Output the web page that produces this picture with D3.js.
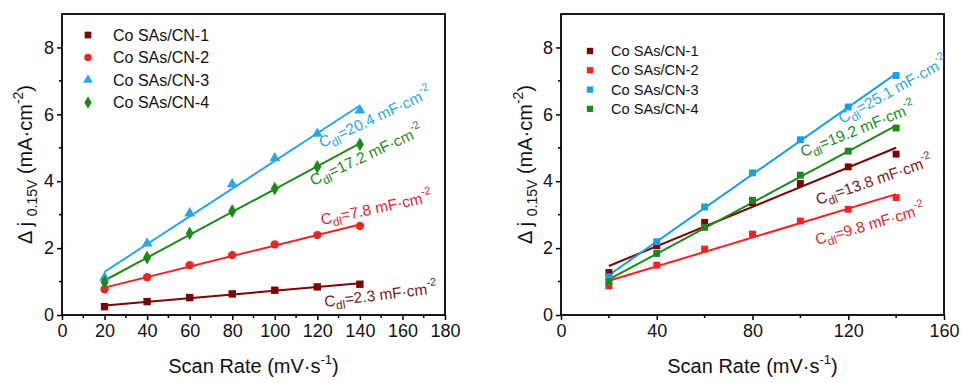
<!DOCTYPE html>
<html><head><meta charset="utf-8">
<script src="https://cdn.jsdelivr.net/npm/d3@7"></script>
<style>
html,body{margin:0;padding:0;background:#fff;}
svg{display:block;font-family:"Liberation Sans",Arial,sans-serif;}
</style></head>
<body>
<svg id="chart" width="963" height="383"></svg>
<script>
// ---------- DATA ----------
const scanRates = [20, 40, 60, 80, 100, 120, 140];
const seriesNames = ["Co SAs/CN-1", "Co SAs/CN-2", "Co SAs/CN-3", "Co SAs/CN-4"];

// Left panel
const leftCN1 = [0.25, 0.40, 0.52, 0.63, 0.74, 0.84, 0.92];
const leftCN2 = [0.77, 1.13, 1.49, 1.79, 2.11, 2.39, 2.66];
const leftCN3 = [1.12, 2.14, 3.04, 3.91, 4.69, 5.42, 6.12];
const leftCN4 = [0.98, 1.72, 2.44, 3.11, 3.78, 4.43, 5.10];
const leftCdl = ["2.3", "7.8", "20.4", "17.2"];

// Right panel
const rightCN1 = [1.27, 2.07, 2.77, 3.36, 3.93, 4.43, 4.81];
const rightCN2 = [0.87, 1.49, 1.97, 2.42, 2.81, 3.16, 3.51];
const rightCN3 = [1.14, 2.19, 3.23, 4.25, 5.24, 6.22, 7.16];
const rightCN4 = [0.99, 1.84, 2.62, 3.43, 4.18, 4.90, 5.59];
const rightCdl = ["13.8", "9.8", "25.1", "19.2"];

// Ticks
const leftXTicks = [0, 20, 40, 60, 80, 100, 120, 140, 160, 180];
const leftXMinor = [10, 30, 50, 70, 90, 110, 130, 150, 170];
const rightXTicks = [0, 40, 80, 120, 160];
const rightXMinor = [20, 60, 100, 140];
const yTicks = [0, 2, 4, 6, 8];
const yMinor = [1, 3, 5, 7];

// ---------- STYLE / LAYOUT ----------
const svg = d3.select("#chart");

function linfit(xs, ys) {
  const n = xs.length, mx = d3.mean(xs), my = d3.mean(ys);
  let sxy = 0, sxx = 0;
  for (let i = 0; i < n; i++) { sxy += (xs[i]-mx)*(ys[i]-my); sxx += (xs[i]-mx)**2; }
  const b = sxy / sxx;
  return x => my + b * (x - mx);
}

function drawPanel(cfg) {
  const g = svg.append("g");
  const x = d3.scaleLinear().domain(cfg.xDomain).range([cfg.left, cfg.right]);
  const y = d3.scaleLinear().domain([0, 9]).range([cfg.bottom, cfg.top]);

  // frame
  g.append("rect").attr("x", cfg.left).attr("y", cfg.top)
    .attr("width", cfg.right - cfg.left).attr("height", cfg.bottom - cfg.top)
    .attr("fill", "none").attr("stroke", "#000").attr("stroke-width", 1.8);

  // axes
  const xAxis = d3.axisBottom(x).tickValues(cfg.xTicks).tickSize(5).tickPadding(4).tickFormat(d3.format("d"));
  const gx = g.append("g").attr("transform", `translate(0,${cfg.bottom})`).call(xAxis);
  const yAxis = d3.axisLeft(y).tickValues(yTicks).tickSize(5).tickPadding(3).tickFormat(d3.format("d"));
  const gy = g.append("g").attr("transform", `translate(${cfg.left},0)`).call(yAxis);
  [gx, gy].forEach(a => {
    a.select(".domain").remove();
    a.selectAll(".tick line").attr("stroke", "#000").attr("stroke-width", 1.5);
    a.selectAll(".tick text").attr("font-size", 18).attr("fill", "#111")
      .attr("font-family", "Liberation Sans, Arial, sans-serif");
  });
  // minor ticks
  g.append("g").selectAll("line").data(cfg.xMinor).join("line")
    .attr("x1", d => x(d)).attr("x2", d => x(d))
    .attr("y1", cfg.bottom).attr("y2", cfg.bottom + 3)
    .attr("stroke", "#000").attr("stroke-width", 1.5);
  g.append("g").selectAll("line").data(yMinor).join("line")
    .attr("x1", cfg.left - 3).attr("x2", cfg.left)
    .attr("y1", d => y(d)).attr("y2", d => y(d))
    .attr("stroke", "#000").attr("stroke-width", 1.5);

  // x title
  const xt = g.append("text").attr("x", (cfg.left + cfg.right) / 2).attr("y", 373)
    .attr("text-anchor", "middle").attr("font-size", 20).attr("fill", "#111");
  xt.append("tspan").text("Scan Rate (mV·s");
  xt.append("tspan").attr("font-size", 13).attr("dy", -9).text("-1");
  xt.append("tspan").attr("dy", 9).text(")");

  // y title
  const cy = (cfg.top + cfg.bottom) / 2;
  const yt = g.append("text")
    .attr("transform", `translate(${cfg.left - cfg.yTitleOff},${cy}) rotate(-90)`)
    .attr("text-anchor", "middle").attr("font-size", 20).attr("fill", "#111");
  yt.append("tspan").text("Δ j ");
  yt.append("tspan").attr("font-size", 14).attr("dy", 5).text("0.15V");
  yt.append("tspan").attr("dy", -5).text("  (mA·cm");
  yt.append("tspan").attr("font-size", 14).attr("dy", -9).text("-2");
  yt.append("tspan").attr("dy", 9).text(")");

  // lines & markers
  cfg.series.forEach((s) => {
    const f = linfit(scanRates, s.values);
    const x0 = scanRates[0], x1 = scanRates[scanRates.length - 1];
    g.append("line")
      .attr("x1", x(x0)).attr("y1", y(f(x0)))
      .attr("x2", x(x1)).attr("y2", y(f(x1)))
      .attr("stroke", s.color).attr("stroke-width", 2);
  });
  cfg.series.forEach((s) => {
    g.append("g").selectAll("path").data(s.values).join("path")
      .attr("transform", (d, j) => `translate(${x(scanRates[j])},${y(d)})`)
      .attr("d", d3.symbol().type(s.symbol).size(s.symSize))
      .attr("fill", s.color);
  });

  // annotations
  cfg.series.forEach((s, i) => {
    const a = cfg.annot[i];
    const t = g.append("text")
      .attr("transform", `translate(${x(a.x)},${y(a.y)}) rotate(${a.angle})`)
      .attr("font-size", 15.5).attr("fill", s.textColor);
    t.append("tspan").text("C");
    t.append("tspan").attr("font-size", 12).attr("dy", 4).text("dl");
    t.append("tspan").attr("dy", -4).text("=" + s.cdl + " mF·cm");
    t.append("tspan").attr("font-size", 11).attr("dy", -8).text("-2");
  });

  // legend
  const lg = g.append("g");
  cfg.series.forEach((s, i) => {
    const ly = cfg.legY + i * cfg.legDy;
    lg.append("path").attr("transform", `translate(${cfg.legX},${ly})`)
      .attr("d", d3.symbol().type(s.symbol).size(s.legSize)).attr("fill", s.color);
    lg.append("text").attr("x", cfg.legX + cfg.legTextDx).attr("y", ly)
      .attr("dy", "0.35em").attr("font-size", cfg.legFont).attr("fill", "#111").text(seriesNames[i]);
  });
}

const darkRed = "#7a0505", red = "#ec2424", blue = "#2ba6ea", green = "#1b8a1b";

drawPanel({
  left: 62, right: 445, top: 14, bottom: 315,
  xDomain: [0, 180], xTicks: leftXTicks, xMinor: leftXMinor,
  yTitleOff: 30,
  legX: 88, legY: 35, legDy: 22.5, legTextDx: 25, legFont: 16,
  series: [
    { values: leftCN1, color: darkRed, textColor: "#7a1a20", symbol: d3.symbolSquare, symSize: 55, legSize: 45, cdl: leftCdl[0] },
    { values: leftCN2, color: red, textColor: "#e0282c", symbol: d3.symbolCircle, symSize: 55, legSize: 45, cdl: leftCdl[1] },
    { values: leftCN3, color: blue, textColor: "#2ba6ea", symbol: d3.symbolTriangle, symSize: 50, legSize: 42, cdl: leftCdl[2] },
    { values: leftCN4, color: green, textColor: "#1b8a1b", symbol: d3.symbolDiamond, symSize: 55, legSize: 45, cdl: leftCdl[3] }
  ],
  annot: [
    { x: 123.6, y: 0.24, angle: -7 },
    { x: 122.2, y: 2.69, angle: -12 },
    { x: 122.2, y: 4.99, angle: -25 },
    { x: 118.0, y: 3.86, angle: -25 }
  ]
});

drawPanel({
  left: 561, right: 944, top: 14, bottom: 315,
  xDomain: [0, 160], xTicks: rightXTicks, xMinor: rightXMinor,
  yTitleOff: 29,
  legX: 590, legY: 51, legDy: 19.3, legTextDx: 21, legFont: 14.6,
  series: [
    { values: rightCN1, color: darkRed, textColor: "#7a1a20", symbol: d3.symbolSquare, symSize: 48, legSize: 40, cdl: rightCdl[0] },
    { values: rightCN2, color: "#ff1f1f", textColor: "#e0282c", symbol: d3.symbolSquare, symSize: 48, legSize: 40, cdl: rightCdl[1] },
    { values: rightCN3, color: "#1a9ee8", textColor: "#2ba6ea", symbol: d3.symbolSquare, symSize: 48, legSize: 40, cdl: rightCdl[2] },
    { values: rightCN4, color: green, textColor: "#1b8a1b", symbol: d3.symbolSquare, symSize: 48, legSize: 40, cdl: rightCdl[3] }
  ],
  annot: [
    { x: 107.4, y: 3.29, angle: -19 },
    { x: 106.9, y: 2.09, angle: -16 },
    { x: 117.4, y: 5.71, angle: -29 },
    { x: 101.1, y: 4.72, angle: -22 }
  ]
});
</script>
</body></html>
